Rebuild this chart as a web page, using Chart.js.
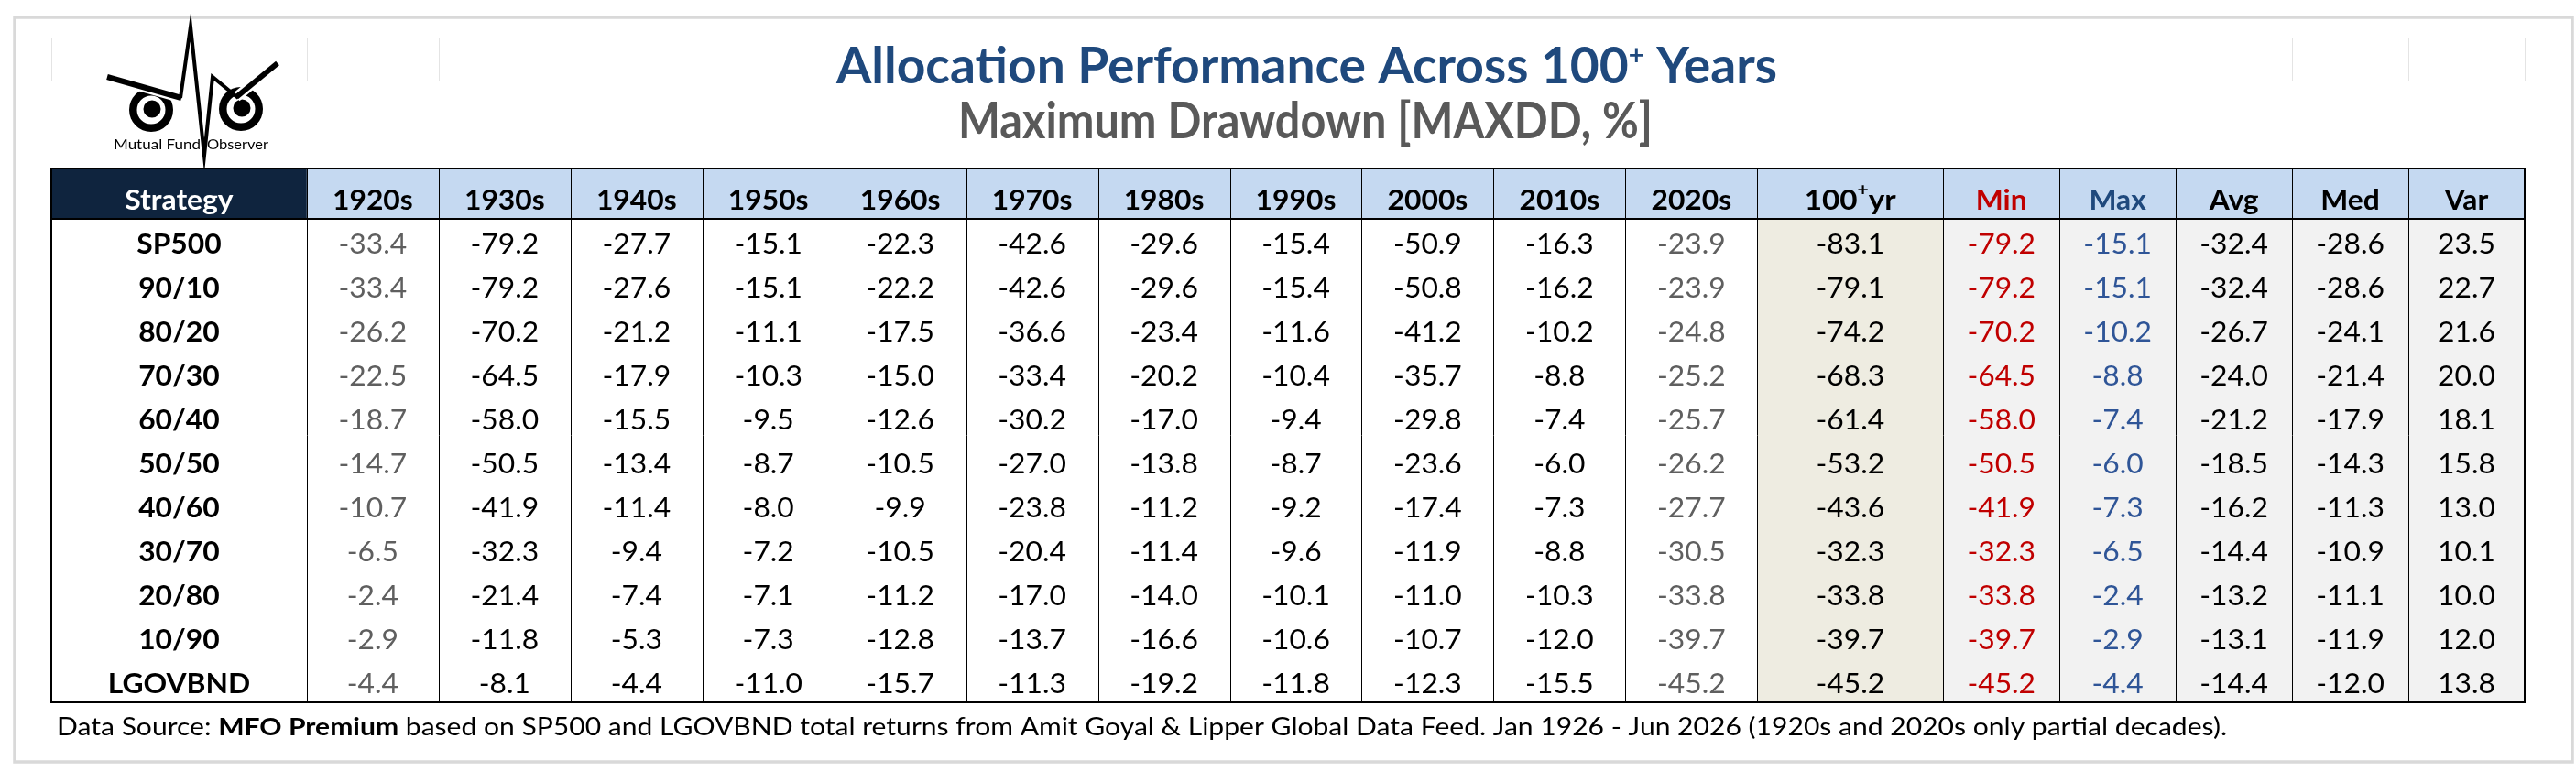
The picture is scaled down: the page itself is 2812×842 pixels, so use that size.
<!DOCTYPE html>
<html lang="en">
  <head>
    <meta charset="UTF-8" />
    <title>Allocation Performance - Maximum Drawdown</title>
    <script src="https://cdn.jsdelivr.net/npm/chart.js"></script>
    <style>
      html,
      body {
        margin: 0;
        padding: 0;
        background: #fff;
      }
      canvas {
        display: block;
      }
    </style>
  </head>
  <body>
    <canvas id="tableChart" width="2812" height="842"></canvas>
    <script>
      // table data (MAXDD, %)
      const strategies = ["SP500", "90/10", "80/20", "70/30", "60/40", "50/50", "40/60", "30/70", "20/80", "10/90", "LGOVBND"];
      const decades = ["1920s", "1930s", "1940s", "1950s", "1960s", "1970s", "1980s", "1990s", "2000s", "2010s", "2020s"];
      const statLabels = ["Min", "Max", "Avg", "Med", "Var"];

      const sp500 = [-33.4, -79.2, -27.7, -15.1, -22.3, -42.6, -29.6, -15.4, -50.9, -16.3, -23.9];
      const mix9010 = [-33.4, -79.2, -27.6, -15.1, -22.2, -42.6, -29.6, -15.4, -50.8, -16.2, -23.9];
      const mix8020 = [-26.2, -70.2, -21.2, -11.1, -17.5, -36.6, -23.4, -11.6, -41.2, -10.2, -24.8];
      const mix7030 = [-22.5, -64.5, -17.9, -10.3, -15.0, -33.4, -20.2, -10.4, -35.7, -8.8, -25.2];
      const mix6040 = [-18.7, -58.0, -15.5, -9.5, -12.6, -30.2, -17.0, -9.4, -29.8, -7.4, -25.7];
      const mix5050 = [-14.7, -50.5, -13.4, -8.7, -10.5, -27.0, -13.8, -8.7, -23.6, -6.0, -26.2];
      const mix4060 = [-10.7, -41.9, -11.4, -8.0, -9.9, -23.8, -11.2, -9.2, -17.4, -7.3, -27.7];
      const mix3070 = [-6.5, -32.3, -9.4, -7.2, -10.5, -20.4, -11.4, -9.6, -11.9, -8.8, -30.5];
      const mix2080 = [-2.4, -21.4, -7.4, -7.1, -11.2, -17.0, -14.0, -10.1, -11.0, -10.3, -33.8];
      const mix1090 = [-2.9, -11.8, -5.3, -7.3, -12.8, -13.7, -16.6, -10.6, -10.7, -12.0, -39.7];
      const lgovbnd = [-4.4, -8.1, -4.4, -11.0, -15.7, -11.3, -19.2, -11.8, -12.3, -15.5, -45.2];
      const decadeRows = [sp500, mix9010, mix8020, mix7030, mix6040, mix5050, mix4060, mix3070, mix2080, mix1090, lgovbnd];

      const fullPeriod = [-83.1, -79.1, -74.2, -68.3, -61.4, -53.2, -43.6, -32.3, -33.8, -39.7, -45.2];
      const minDD = [-79.2, -79.2, -70.2, -64.5, -58.0, -50.5, -41.9, -32.3, -33.8, -39.7, -45.2];
      const maxDD = [-15.1, -15.1, -10.2, -8.8, -7.4, -6.0, -7.3, -6.5, -2.4, -2.9, -4.4];
      const avgDD = [-32.4, -32.4, -26.7, -24.0, -21.2, -18.5, -16.2, -14.4, -13.2, -13.1, -14.4];
      const medDD = [-28.6, -28.6, -24.1, -21.4, -17.9, -14.3, -11.3, -10.9, -11.1, -11.9, -12.0];
      const varDD = [23.5, 22.7, 21.6, 20.0, 18.1, 15.8, 13.0, 10.1, 10.0, 12.0, 13.8];
      const statCols = [minDD, maxDD, avgDD, medDD, varDD];

      // layout (column / row sizes in scale units)
      const colWidths = [279].concat(decades.map(() => 144), [203], statLabels.map(() => 127));
      const headerH = 55;
      const rowH = 48;
      const totalW = colWidths.reduce((a, b) => a + b, 0);
      const totalH = headerH + rowH * strategies.length;

      const FONT = 'Lato, "Noto Sans", sans-serif';
      const SX = 1.06; // calibri-ish width tweak

      function drawText(ctx, s, x, y, size, weight, color, align, sx) {
        ctx.save();
        ctx.font = `${weight} ${size}px ${FONT}`;
        ctx.fillStyle = color;
        ctx.textBaseline = "alphabetic";
        ctx.translate(x, y);
        ctx.scale(sx, 1);
        const w = ctx.measureText(s).width;
        const dx = align === "center" ? -w / 2 : align === "right" ? -w : 0;
        ctx.fillText(s, dx, 0);
        ctx.restore();
      }

      // draw a run of segments, squeezed to a given width
      function drawRuns(ctx, runs, x, y, width) {
        let total = 0;
        runs.forEach((r) => {
          ctx.font = `${r.weight} ${r.size}px ${FONT}`;
          r.w = ctx.measureText(r.text).width;
          total += r.w;
        });
        const sx = width / total;
        let cx = x;
        runs.forEach((r) => {
          drawText(ctx, r.text, cx, y + (r.dy || 0), r.size, r.weight, r.color, "left", sx);
          cx += r.w * sx;
        });
      }

      function drawLogo(ctx) {
        ctx.save();
        ctx.strokeStyle = "#000";
        ctx.fillStyle = "#000";
        // eyes
        [[165, 120], [263, 119]].forEach(([cx, cy]) => {
          ctx.beginPath();
          ctx.arc(cx, cy, 24, 0, Math.PI * 2);
          ctx.fill();
          ctx.fillStyle = "#fff";
          ctx.beginPath();
          ctx.arc(cx, cy, 15.5, 0, Math.PI * 2);
          ctx.fill();
          ctx.fillStyle = "#000";
          ctx.beginPath();
          ctx.arc(cx + 1, cy - 1, 9.5, 0, Math.PI * 2);
          ctx.fill();
        });
        // brows with a white gap over the eyes
        const brows = [
          [[117, 84], [198, 107]],
          [[258, 106], [303, 69]],
        ];
        brows.forEach((b) => {
          ctx.lineCap = "butt";
          ctx.strokeStyle = "#fff";
          ctx.lineWidth = 11;
          ctx.beginPath();
          ctx.moveTo(b[0][0], b[0][1]);
          ctx.lineTo(b[1][0], b[1][1]);
          ctx.stroke();
          ctx.strokeStyle = "#000";
          ctx.lineWidth = 6;
          ctx.stroke();
        });
        // heartbeat spike
        ctx.lineJoin = "miter";
        ctx.miterLimit = 20;
        ctx.lineWidth = 4;
        ctx.beginPath();
        ctx.moveTo(197, 107);
        ctx.lineTo(208, 29);
        ctx.lineTo(223, 170);
        ctx.lineTo(232, 84);
        ctx.lineTo(260, 107);
        ctx.stroke();
        ctx.restore();
        drawRuns(ctx, [{ text: "Mutual Fund", size: 16, weight: "400", color: "#000" }], 124, 163, 95);
        drawRuns(ctx, [{ text: "Observer", size: 16, weight: "400", color: "#000" }], 226, 163, 67);
      }

      const tablePlugin = {
        id: "tablePlugin",
        afterDraw(chart) {
          const ctx = chart.ctx;
          const xs = chart.scales.x;
          const ys = chart.scales.y;

          // column edges / row edges in pixels, via the chart scales
          const colEdges = [0];
          colWidths.forEach((w, i) => colEdges.push(colEdges[i] + w));
          const xe = colEdges.map((v) => xs.getPixelForValue(v));
          const rowEdges = [0, headerH];
          strategies.forEach((s, i) => rowEdges.push(headerH + rowH * (i + 1)));
          const ye = rowEdges.map((v) => ys.getPixelForValue(v));

          const nDec = decades.length;
          const fullCol = 1 + nDec;
          const firstStat = fullCol + 1;

          // page frame
          ctx.save();
          ctx.strokeStyle = "#d9d9d9";
          ctx.lineWidth = 3.5;
          ctx.strokeRect(16, 19, 2792, 813);
          // faint sheet gridlines at top
          ctx.strokeStyle = "#e4e4e4";
          ctx.lineWidth = 1;
          [0, 1, 2, colWidths.length - 2, colWidths.length - 1, colWidths.length].forEach((i) => {
            const x = Math.round(xe[i]) + 0.5;
            ctx.beginPath();
            ctx.moveTo(x, 41);
            ctx.lineTo(x, 88);
            ctx.stroke();
          });
          ctx.restore();

          drawLogo(ctx);

          // titles
          drawRuns(
            ctx,
            [
              { text: "Allocation Performance Across 100", size: 56, weight: "700", color: "#1f497d" },
              { text: "+", size: 30, weight: "700", color: "#1f497d", dy: -20 },
              { text: " Years", size: 56, weight: "700", color: "#1f497d" },
            ],
            913,
            91,
            1027
          );
          drawRuns(ctx, [{ text: "Maximum Drawdown [MAXDD, %]", size: 56, weight: "700", color: "#595959" }], 1046, 151, 758);

          // cell fills
          ctx.save();
          ctx.fillStyle = "#0f243e";
          ctx.fillRect(xe[0], ye[0], xe[1] - xe[0], ye[1] - ye[0]);
          ctx.fillStyle = "#c5d9f1";
          ctx.fillRect(xe[1], ye[0], xe[xe.length - 1] - xe[1], ye[1] - ye[0]);
          ctx.fillStyle = "#eeece1";
          ctx.fillRect(xe[fullCol], ye[1], xe[fullCol + 1] - xe[fullCol], ye[ye.length - 1] - ye[1]);
          ctx.fillStyle = "#f2f2f2";
          ctx.fillRect(xe[firstStat], ye[1], xe[xe.length - 1] - xe[firstStat], ye[ye.length - 1] - ye[1]);
          ctx.restore();

          // vertical lines
          ctx.save();
          ctx.strokeStyle = "#000";
          ctx.lineWidth = 1;
          for (let i = 1; i < xe.length - 1; i++) {
            const x = Math.round(xe[i]) + 0.5;
            ctx.beginPath();
            ctx.moveTo(x, ye[0]);
            ctx.lineTo(x, ye[ye.length - 1]);
            ctx.stroke();
          }
          ctx.lineWidth = 2;
          ctx.beginPath();
          ctx.moveTo(xe[0], ye[1]);
          ctx.lineTo(xe[xe.length - 1], ye[1]);
          ctx.stroke();
          ctx.strokeRect(xe[0], ye[0], xe[xe.length - 1] - xe[0], ye[ye.length - 1] - ye[0]);
          ctx.restore();

          const cx = (i) => (xe[i] + xe[i + 1]) / 2;
          const base = (r) => ye[r + 1] - 10;

          // header row
          drawText(ctx, "Strategy", cx(0), base(0), 30, "700", "#fff", "center", SX);
          decades.forEach((d, j) => drawText(ctx, d, cx(1 + j), base(0), 30, "700", "#000", "center", SX));
          drawRuns(
            ctx,
            [
              { text: "100", size: 30, weight: "700", color: "#000" },
              { text: "+", size: 19, weight: "700", color: "#000", dy: -15 },
              { text: "yr", size: 30, weight: "700", color: "#000" },
            ],
            cx(fullCol) - 50,
            base(0),
            100
          );
          const statHeadColors = ["#c00000", "#1f497d", "#000", "#000", "#000"];
          statLabels.forEach((s, j) => drawText(ctx, s, cx(firstStat + j), base(0), 30, "700", statHeadColors[j], "center", SX));

          // body rows
          const statColors = ["#c00000", "#2f5597", "#000", "#000", "#000"];
          strategies.forEach((name, r) => {
            const y = base(r + 1);
            drawText(ctx, name, cx(0), y, 30, "700", "#000", "center", SX);
            decadeRows[r].forEach((v, j) => {
              const partial = j === 0 || j === nDec - 1;
              drawText(ctx, v.toFixed(1), cx(1 + j), y, 30, "400", partial ? "#5f5f5f" : "#000", "center", SX);
            });
            drawText(ctx, fullPeriod[r].toFixed(1), cx(fullCol), y, 30, "400", "#000", "center", SX);
            statCols.forEach((col, j) => {
              drawText(ctx, col[r].toFixed(1), cx(firstStat + j), y, 30, "400", statColors[j], "center", SX);
            });
          });

          // footnote
          drawRuns(
            ctx,
            [
              { text: "Data Source: ", size: 26, weight: "400", color: "#000" },
              { text: "MFO Premium", size: 26, weight: "700", color: "#000" },
              {
                text: " based on SP500 and LGOVBND total returns from Amit Goyal & Lipper Global Data Feed. Jan 1926 - Jun 2026 (1920s and 2020s only partial decades).",
                size: 26,
                weight: "400",
                color: "#000",
              },
            ],
            62,
            803,
            2369
          );
        },
      };

      const chart = new Chart(document.getElementById("tableChart"), {
        type: "scatter",
        data: { datasets: [] },
        options: {
          responsive: false,
          animation: false,
          devicePixelRatio: 1,
          layout: { padding: { left: 56, top: 184, right: 56, bottom: 75 } },
          scales: {
            x: { type: "linear", min: 0, max: totalW, display: false },
            y: { type: "linear", min: 0, max: totalH, reverse: true, display: false },
          },
          plugins: { legend: { display: false }, tooltip: { enabled: false } },
        },
        plugins: [tablePlugin],
      });
    </script>
  </body>
</html>
